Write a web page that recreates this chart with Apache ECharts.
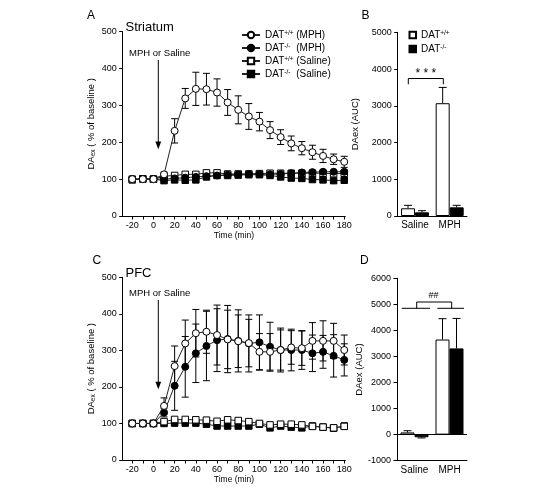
<!DOCTYPE html>
<html>
<head>
<meta charset="utf-8">
<script src="https://cdn.jsdelivr.net/npm/echarts@6/dist/echarts.min.js"></script>
<style>
html,body{margin:0;padding:0;background:#fff;}
#c{width:551px;height:491px;}
</style>
</head>
<body>
<div id="c"></div>
<script>
// ---------- data ----------
const time = [-20,-10,0,10,20,30,40,50,60,70,80,90,100,110,120,130,140,150,160,170,180];
const xTickLabels = [-20,0,20,40,60,80,100,120,140,160,180];
const xTickMarks = [-20,-10,0,10,20,30,40,50,60,70,80,90,100,110,120,130,140,150,160,170,180];

// Panel A: Striatum (% of baseline)
const strWtMph    = [100,100,100,113,231,319,345,344,335,308,288,270,256,233,214,197,184,173,163,154,147];
const strWtMphErr = [0,0,0,6,33,27,45,43,37,35,38,35,25,23,20,20,18,19,18,14,15];
const strKoMph    = [100,100,100,100,102,104,106,108,110,112,113,114,114,113,114,116,118,119,120,120,120];
const strWtSal    = [100,100,100,108,110,113,113,117,117,114,114,114,115,116,116,116,116,116,116,115,116];
const strKoSal    = [98,101,100,96,98,97,98,106,110,110,111,112,112,110,106,103,102,99,98,96,97];

// Panel C: PFC (% of baseline)
const pfcWtMph    = [100,100,100,148,257,319,347,351,342,330,325,320,296,296,301,308,306,326,326,326,301];
const pfcWtMphErr = [0,0,0,22,55,64,65,59,82,80,72,65,50,50,55,46,47,50,55,48,41];
const pfcKoMph    = [100,100,100,130,203,255,292,312,328,331,326,319,322,310,301,301,301,292,296,285,274];
const pfcKoMphErr = [0,0,0,12,67,83,80,95,86,92,85,78,75,67,60,57,53,50,45,58,44];
const pfcWtSal    = [100,100,100,105,111,111,110,109,106,110,108,105,100,96,98,98,96,92,90,88,92];
const pfcKoSal    = [100,100,100,100,101,101,101,98,93,93,93,93,98,88,93,90,88,93,90,87,93];

// Panels B & D: AUC
const groups = ['Saline','MPH'];
const strAucWt = [210, 3070];  const strAucWtErr = [80, 430];
const strAucKo = [100, 236];   const strAucKoErr = [45, 55];
const pfcAucWt = [85, 3650];   const pfcAucWtErr = [65, 800];
const pfcAucKo = [-100, 3310]; const pfcAucKoErr = [27, 1150];

// ---------- helpers ----------
const FONT = 'Liberation Sans, Arial, sans-serif';
const INK = '#000';

function pairs(xs, ys){ return xs.map((x,i)=>[x, ys[i]]); }

function lineSeries(name, xi, ys, symbol, filled, z){
  return {
    type:'line', name, xAxisIndex:xi, yAxisIndex:xi, data:pairs(time, ys),
    symbol, symbolSize: symbol==='circle'?7:6.5, showAllSymbol:true,
    lineStyle:{color:'#222', width:1},
    itemStyle:{color: filled?INK:'#fff', borderColor:INK, borderWidth:1},
    emphasis:{disabled:true}, animation:false, z
  };
}

function errLineSeries(xi, ys, es, z){
  const data = time.map((t,i)=>[t, ys[i], es[i]]).filter(d=>d[2]>0);
  return {
    type:'custom', xAxisIndex:xi, yAxisIndex:xi, data, z, silent:true, animation:false,
    renderItem(params, api){
      const x=api.value(0), y=api.value(1), e=api.value(2);
      const t=api.coord([x,y+e]), b=api.coord([x,y-e]);
      const cw=3.5, st={stroke:INK, lineWidth:1};
      return {type:'group', children:[
        {type:'line', shape:{x1:t[0],y1:t[1],x2:b[0],y2:b[1]}, style:st},
        {type:'line', shape:{x1:t[0]-cw,y1:t[1],x2:t[0]+cw,y2:t[1]}, style:st},
        {type:'line', shape:{x1:b[0]-cw,y1:b[1],x2:b[0]+cw,y2:b[1]}, style:st}
      ]};
    }
  };
}

function barSeries(name, xi, ys, filled, extra){
  return Object.assign({
    type:'bar', name, xAxisIndex:xi, yAxisIndex:xi, data:ys,
    barWidth:14, barGap:'0%',
    itemStyle:{color: filled?INK:'#fff', borderColor:INK, borderWidth:1},
    emphasis:{disabled:true}, animation:false
  }, extra||{});
}

function errBarSeries(xi, ys, es, offset){
  const data = ys.map((v,i)=>[i, v, es[i]]);
  return {
    type:'custom', xAxisIndex:xi, yAxisIndex:xi, data, z:3, silent:true, animation:false,
    renderItem(params, api){
      const i=api.value(0), v=api.value(1), e=api.value(2);
      const end = v>=0 ? v+e : v-e;
      const a=api.coord([i,v]), b=api.coord([i,end]);
      const x=a[0]+offset, cw=4, st={stroke:INK, lineWidth:1};
      return {type:'group', children:[
        {type:'line', shape:{x1:x,y1:a[1],x2:x,y2:b[1]}, style:st},
        {type:'line', shape:{x1:x-cw,y1:b[1],x2:x+cw,y2:b[1]}, style:st}
      ]};
    }
  };
}

const axisLineStyle = {show:true, onZero:false, lineStyle:{color:INK, width:1}};
const tickStyle = {show:true, inside:false, length:3.5, lineStyle:{color:INK, width:1}};
const yNameRich = {
  m:{fontSize:9.5, fontFamily:FONT, color:INK},
  s:{fontSize:6.5, fontFamily:FONT, color:INK, verticalAlign:'bottom', padding:[4,0,0,0]}
};

function timeAxis(gi){
  return {
    type:'value', gridIndex:gi, min:-29, max:181,
    axisLine:axisLineStyle,
    axisTick:Object.assign({customValues:xTickMarks}, tickStyle),
    axisLabel:{customValues:xTickLabels, fontSize:9, fontFamily:FONT, color:INK, margin:5},
    splitLine:{show:false},
    name:'Time (min)', nameLocation:'middle', nameGap:15,
    nameTextStyle:{fontSize:8.5, fontFamily:FONT, color:INK}
  };
}
function catAxis(gi, margin){
  return {
    type:'category', gridIndex:gi, data:groups,
    axisLine:axisLineStyle, axisTick:{show:false},
    axisLabel:{interval:0, fontSize:10, fontFamily:FONT, color:INK, margin, hideOverlap:false},
    splitLine:{show:false}
  };
}
function valAxis(gi, min, max, interval, name, gap){
  return {
    type:'value', gridIndex:gi, min, max, interval,
    axisLine:{show:true, onZero:false, lineStyle:{color:INK, width:1}},
    axisTick:tickStyle,
    axisLabel:{fontSize:9, fontFamily:FONT, color:INK, margin:6, formatter:(v)=>String(v)},
    splitLine:{show:false},
    name, nameLocation:'middle', nameRotate:90, nameGap:gap,
    nameTextStyle:{rich:yNameRich}
  };
}

const legendNamesA = ['DAT+/+ (MPH)','DAT-/- (MPH)','DAT+/+ (Saline)','DAT-/-  (Saline)'];
const legendRich = {
  n:{fontSize:10, fontFamily:FONT, color:INK},
  p:{fontSize:6.5, fontFamily:FONT, color:INK, verticalAlign:'top', padding:[0,0,4,0], width:12}
};
function legendFmt(name){
  const m = name.match(/^DAT(\S+)\s*(.*)$/);
  if(!m) return name;
  return '{n|DAT}{p|'+m[1]+'}' + (m[2] ? '{n|'+m[2]+'}' : '');
}

const option = {
  backgroundColor:'#fff',
  animation:false,
  textStyle:{fontFamily:FONT},
  grid:[
    {left:122.7, top:31.7, width:222.6, height:184.3},
    {left:397.7, top:32.3, width:69.3, height:183.7},
    {left:122.7, top:277.3, width:222.6, height:182.7},
    {left:397, top:278.3, width:70, height:182.4}
  ],
  xAxis:[ timeAxis(0), catAxis(1,4), timeAxis(2), catAxis(3,5) ],
  yAxis:[
    valAxis(0, 0, 500, 100, '{m|DA}{s|ex}{m| ( % of baseline )}', 26),
    valAxis(1, 0, 5000, 1000, '{m|DA}{m|ex (AUC)}', 37),
    valAxis(2, 0, 500, 100, '{m|DA}{s|ex}{m| ( % of baseline )}', 26),
    valAxis(3, -1000, 6000, 1000, '{m|DA}{m|ex (AUC)}', 33)
  ],
  legend:[
    {
      data:legendNamesA, orient:'vertical', left:241, top:29.5, padding:0,
      itemWidth:18, itemHeight:8, itemGap:2.5, selectedMode:false,
      formatter:legendFmt, textStyle:{rich:legendRich, fontSize:10, color:INK}
    },
    {
      data:['DAT+/+','DAT-/-'], orient:'vertical', left:408.5, top:29.5, padding:0,
      icon:'rect', itemWidth:6.5, itemHeight:6.5, itemGap:3.5, selectedMode:false,
      formatter:legendFmt, textStyle:{rich:legendRich, fontSize:10, color:INK}
    }
  ],
  series:[
    // Panel A
    errLineSeries(0, strWtMph, strWtMphErr, 1),
    lineSeries('DAT-/-  (Saline)', 0, strKoSal, 'rect', true, 2),
    lineSeries('DAT+/+ (Saline)', 0, strWtSal, 'rect', false, 3),
    lineSeries('DAT-/- (MPH)', 0, strKoMph, 'circle', true, 4),
    lineSeries('DAT+/+ (MPH)', 0, strWtMph, 'circle', false, 5),
    // Panel B
    barSeries('DAT+/+', 1, strAucWt, false),
    barSeries('DAT-/-', 1, strAucKo, true),
    errBarSeries(1, strAucWt, strAucWtErr, -7),
    errBarSeries(1, strAucKo, strAucKoErr, 7),
    // Panel C
    errLineSeries(2, pfcWtMph, pfcWtMphErr, 1),
    errLineSeries(2, pfcKoMph, pfcKoMphErr, 1),
    lineSeries('C KO saline', 2, pfcKoSal, 'rect', true, 2),
    lineSeries('C WT saline', 2, pfcWtSal, 'rect', false, 3),
    lineSeries('C KO MPH', 2, pfcKoMph, 'circle', true, 4),
    lineSeries('C WT MPH', 2, pfcWtMph, 'circle', false, 5),
    // Panel D
    barSeries('D WT', 3, pfcAucWt, false, {
      markLine:{silent:true, symbol:'none', label:{show:false}, animation:false,
        lineStyle:{color:INK, width:1, type:'solid'}, data:[{yAxis:0}]}
    }),
    barSeries('D KO', 3, pfcAucKo, true),
    errBarSeries(3, pfcAucWt, pfcAucWtErr, -7),
    errBarSeries(3, pfcAucKo, pfcAucKoErr, 7)
  ],
  graphic:[
    {type:'text', left:87, top:10, style:{text:'A', fontSize:12, fontFamily:FONT, fill:INK}},
    {type:'text', left:125.5, top:20.5, style:{text:'Striatum', fontSize:13, fontFamily:FONT, fill:INK}},
    {type:'text', left:361.5, top:10, style:{text:'B', fontSize:12, fontFamily:FONT, fill:INK}},
    {type:'text', left:92.5, top:255, style:{text:'C', fontSize:12, fontFamily:FONT, fill:INK}},
    {type:'text', left:125.5, top:266.5, style:{text:'PFC', fontSize:13, fontFamily:FONT, fill:INK}},
    {type:'text', left:360, top:255, style:{text:'D', fontSize:12, fontFamily:FONT, fill:INK}},
    // MPH arrows
    {type:'text', left:129, top:48, style:{text:'MPH or Saline', fontSize:9.5, fontFamily:FONT, fill:INK}},
    {type:'line', shape:{x1:158.3,y1:60,x2:158.3,y2:143}, style:{stroke:INK, lineWidth:1}},
    {type:'polygon', shape:{points:[[155.4,141.5],[161.2,141.5],[158.3,149.3]]}, style:{fill:INK}},
    {type:'text', left:129, top:288, style:{text:'MPH or Saline', fontSize:9.5, fontFamily:FONT, fill:INK}},
    {type:'line', shape:{x1:158.3,y1:300,x2:158.3,y2:383}, style:{stroke:INK, lineWidth:1}},
    {type:'polygon', shape:{points:[[155.4,381.7],[161.2,381.7],[158.3,389.3]]}, style:{fill:INK}},
    // B bracket
    {type:'polyline', shape:{points:[[408.3,84.3],[408.3,78.5],[443.3,78.5],[443.3,84.3]]}, style:{stroke:INK, lineWidth:1, fill:null}},
    {type:'text', x:425.8, y:74, style:{text:'* * *', fontSize:12, fontFamily:FONT, fill:INK, align:'center', verticalAlign:'middle'}},
    // D bracket
    {type:'polyline', shape:{points:[[416.7,308.3],[416.7,302],[451.7,302],[451.7,308.3]]}, style:{stroke:INK, lineWidth:1, fill:null}},
    {type:'line', shape:{x1:401.7,y1:308.3,x2:430,y2:308.3}, style:{stroke:INK, lineWidth:1}},
    {type:'line', shape:{x1:437.3,y1:308.3,x2:464,y2:308.3}, style:{stroke:INK, lineWidth:1}},
    {type:'text', x:433.5, y:295.5, style:{text:'##', fontSize:9, fontFamily:FONT, fill:INK, align:'center', verticalAlign:'middle'}}
  ]
};

const chart = echarts.init(document.getElementById('c'), null, {renderer:'canvas'});
chart.setOption(option);
</script>
</body>
</html>
